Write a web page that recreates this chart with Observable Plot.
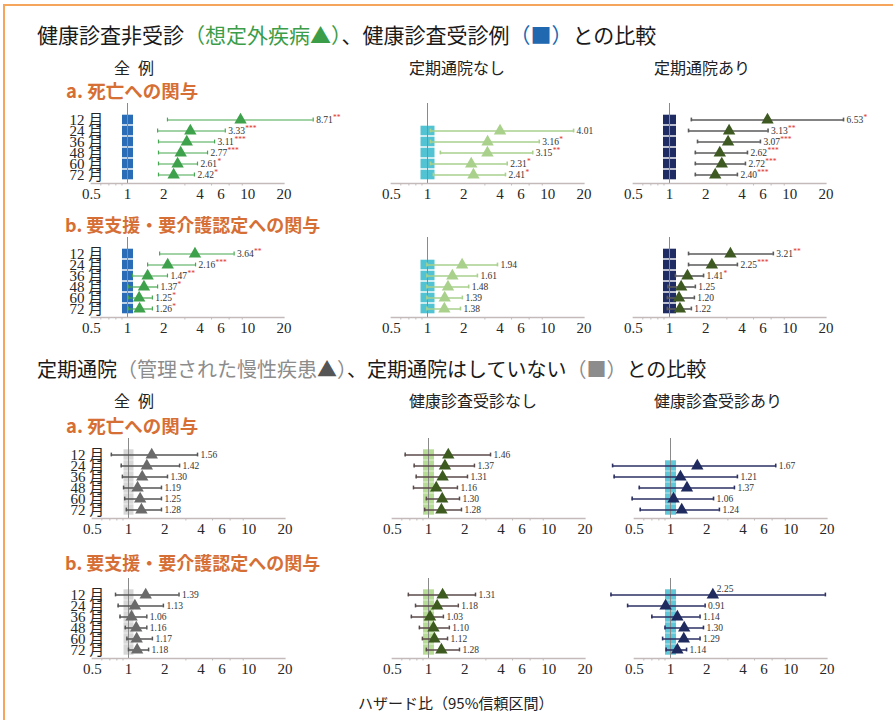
<!DOCTYPE html>
<html><head><meta charset="utf-8">
<script src="https://cdn.jsdelivr.net/npm/d3@7"></script>
<script src="https://cdn.jsdelivr.net/npm/@observablehq/plot@0.6"></script>
<style>
body{margin:0;background:#fff}
#root{position:relative;width:893px;height:720px;overflow:hidden;background:#fff;font-family:"Noto Sans CJK JP","Noto Sans",sans-serif}
.t{position:absolute;white-space:nowrap;line-height:1;transform:translateY(-50%)}
.frameline{position:absolute;left:3px;top:4px;width:900px;height:730px;border-top:2px solid #f5a65c;border-left:2px solid #f5a65c}
.p{position:absolute}
</style></head>
<body>
<div id="root">
<div class="frameline"></div>
<div class="t" style="left:37px;top:34px;font-size:21px;color:#1a1a1a">健康診査非受診<span style="color:#3c9d48">（想定外疾病▲）</span>、健康診査受診例<span style="color:#2068b0">（■）</span>との比較</div>
<div class="t" style="left:114px;top:67px;font-size:16px;color:#222">全&ensp;例</div>
<div class="t" style="left:409px;top:67px;font-size:16px;color:#222">定期通院なし</div>
<div class="t" style="left:654px;top:67px;font-size:16px;color:#222">定期通院あり</div>
<div class="t" style="left:66px;top:90px;font-size:18.5px;font-weight:bold;color:#d66f35">a. 死亡への関与</div>
<div class="t" style="left:65px;top:224px;font-size:18px;font-weight:bold;color:#d66f35">b. 要支援・要介護認定への関与</div>
<div class="t" style="left:37px;top:369px;font-size:20px;color:#1a1a1a">定期通院<span style="color:#8c8c8c">（管理された慢性疾患<span style="color:#555">▲</span>）</span>、定期通院はしていない<span style="color:#8c8c8c">（■）</span>との比較</div>
<div class="t" style="left:114px;top:400px;font-size:16px;color:#222">全&ensp;例</div>
<div class="t" style="left:409px;top:400px;font-size:16px;color:#222">健康診査受診なし</div>
<div class="t" style="left:654px;top:400px;font-size:16px;color:#222">健康診査受診あり</div>
<div class="t" style="left:66px;top:425px;font-size:18.5px;font-weight:bold;color:#d66f35">a. 死亡への関与</div>
<div class="t" style="left:65px;top:562px;font-size:18px;font-weight:bold;color:#d66f35">b. 要支援・要介護認定への関与</div>
<div class="t" style="left:358px;top:702px;font-size:15px;color:#222">ハザード比（95%信頼区間）</div>
</div>
<script>
const rows = ["12 月","24 月","36 月","48 月","60 月","72 月"];
const majorTicks = [0.5, 1, 2, 4, 6, 8, 10, 20];
const minorTicks = [0.6, 0.7, 0.8, 0.9, 3, 5, 7, 9];
const refHR = 1;

// Section 1a: death, 全例 / 定期通院なし / 定期通院あり
const p1Hr = [8.71, 3.33, 3.11, 2.77, 2.61, 2.42];
const p1Lo = [2.15, 1.78, 1.81, 1.81, 1.81, 1.81];
const p1Hi = [35, 6.5, 5.3, 4.63, 3.82, 3.6];
const p1Sig = ["**", "***", "***", "***", "*", "*"];
const p2Hr = [null, 4.01, 3.16, 3.15, 2.31, 2.41];
const p2Lo = [null, 1.06, 1.06, 1.28, 1.06, 1.12];
const p2Hi = [null, 16.4, 8.5, 7.5, 4.6, 4.45];
const p2Sig = [null, "", "*", "**", "*", "*"];
const p3Hr = [6.53, 3.13, 3.07, 2.62, 2.72, 2.40];
const p3Lo = [1.52, 1.44, 1.71, 1.64, 1.64, 1.64];
const p3Hi = [28, 6.6, 5.7, 4.45, 4.28, 3.67];
const p3Sig = ["*", "**", "***", "***", "***", "***"];
// Section 1b: care need
const p4Hr = [3.64, 2.16, 1.47, 1.37, 1.25, 1.26];
const p4Lo = [1.85, 1.47, 1.1, 1.02, 1.02, 1.02];
const p4Hi = [7.7, 3.68, 2.15, 1.78, 1.61, 1.61];
const p4Sig = ["**", "***", "**", "*", "*", "*"];
const p5Hr = [null, 1.94, 1.61, 1.48, 1.39, 1.38];
const p5Lo = [null, 0.99, 0.99, 0.99, 0.99, 0.99];
const p5Hi = [null, 3.82, 2.6, 2.2, 1.95, 1.88];
const p6Hr = [3.21, 2.25, 1.41, 1.25, 1.20, 1.22];
const p6Lo = [1.44, 1.44, 1.12, 0.97, 0.96, 0.96];
const p6Hi = [7.3, 3.67, 1.92, 1.64, 1.61, 1.52];
const p6Sig = ["**", "***", "*", "", "", ""];
// Section 2a: death, 全例 / 健康診査受診なし / 健康診査受診あり
const p7Hr = [1.56, 1.42, 1.30, 1.19, 1.25, 1.28];
const p7Lo = [0.72, 0.87, 0.89, 0.91, 0.93, 0.96];
const p7Hi = [3.75, 2.66, 2.11, 1.88, 1.88, 1.88];
const p8Hr = [1.46, 1.37, 1.31, 1.16, 1.30, 1.28];
const p8Lo = [0.64, 0.76, 0.79, 0.75, 0.96, 0.93];
const p8Hi = [3.28, 2.41, 2.11, 1.74, 1.81, 1.88];
const p9Hr = [null, 1.67, 1.21, 1.37, 1.06, 1.24];
const p9Lo = [null, 0.33, 0.34, 0.55, 0.48, 0.56];
const p9Hi = [null, 7.5, 3.6, 3.4, 2.28, 2.55];
// Section 2b: care need
const p10Hr = [1.39, 1.13, 1.06, 1.16, 1.17, 1.18];
const p10Lo = [0.78, 0.82, 0.85, 0.94, 0.97, 1.0];
const p10Hi = [2.63, 1.95, 1.42, 1.42, 1.58, 1.47];
const p11Hr = [1.31, 1.18, 1.03, 1.10, 1.12, 1.28];
const p11Lo = [0.68, 0.78, 0.72, 0.84, 0.89, 0.96];
const p11Hi = [2.46, 1.77, 1.33, 1.49, 1.44, 1.81];
const p12Hr = [2.25, 0.91, 1.14, 1.30, 1.29, 1.14];
const p12Lo = [0.32, 0.44, 0.70, 0.90, 0.86, 0.92];
const p12Hi = [19.4, 1.94, 1.76, 1.88, 1.76, 1.36];

const serif = "'Liberation Serif','DejaVu Serif',serif";
const serifCJK = "'Liberation Serif','Noto Sans CJK JP',serif";
const axisColor = "#c4baba";
const starRed = "#e0302a";

const st = {
  s1c1: {sq: "#2b6cb6", sqW: 11, gap: 0.7, tri: "#3ea14b", ci: "#46a850", ciW: 1.2},
  s1c2: {sq: "#52c3d2", sqW: 14, gap: 0.7, tri: "#a9d18c", ci: "#a9d18c", ciW: 1.6},
  s1c3: {sq: "#1f2b63", sqW: 13, gap: 0.7, tri: "#3e5a22", ci: "#5a5a5a", ciW: 1.6},
  s2c1: {sq: "#d6d6d6", sqW: 10, gap: 0.3, tri: "#6a6a6a", ci: "#555555", ciW: 1.5},
  s2c2: {sq: "#b6db94", sqW: 11, gap: 0.3, tri: "#3d5a1f", ci: "#5b4a4a", ciW: 1.5},
  s2c3: {sq: "#5fc7d7", sqW: 11, gap: 0.3, tri: "#1f2a5e", ci: "#2c3163", ciW: 1.6}
};

const colX1 = [[127, 427, 669], [128, 428, 670]];
const groupTop = [95, 229, 430, 570];

const panels = [
  {g: 0, c: 0, sec: 0, hr: p1Hr, lo: p1Lo, hi: p1Hi, sig: p1Sig, s: st.s1c1},
  {g: 0, c: 1, sec: 0, hr: p2Hr, lo: p2Lo, hi: p2Hi, sig: p2Sig, s: st.s1c2},
  {g: 0, c: 2, sec: 0, hr: p3Hr, lo: p3Lo, hi: p3Hi, sig: p3Sig, s: st.s1c3},
  {g: 1, c: 0, sec: 0, hr: p4Hr, lo: p4Lo, hi: p4Hi, sig: p4Sig, s: st.s1c1},
  {g: 1, c: 1, sec: 0, hr: p5Hr, lo: p5Lo, hi: p5Hi, sig: null, s: st.s1c2},
  {g: 1, c: 2, sec: 0, hr: p6Hr, lo: p6Lo, hi: p6Hi, sig: p6Sig, s: st.s1c3},
  {g: 2, c: 0, sec: 1, hr: p7Hr, lo: p7Lo, hi: p7Hi, sig: null, s: st.s2c1},
  {g: 2, c: 1, sec: 1, hr: p8Hr, lo: p8Lo, hi: p8Hi, sig: null, s: st.s2c2},
  {g: 2, c: 2, sec: 1, hr: p9Hr, lo: p9Lo, hi: p9Hi, sig: null, s: st.s2c3},
  {g: 3, c: 0, sec: 1, hr: p10Hr, lo: p10Lo, hi: p10Hi, sig: null, s: st.s2c1},
  {g: 3, c: 1, sec: 1, hr: p11Hr, lo: p11Lo, hi: p11Hi, sig: null, s: st.s2c2},
  {g: 3, c: 2, sec: 1, hr: p12Hr, lo: p12Lo, hi: p12Hi, sig: null, s: st.s2c3, above: ["12 月"]}
];

const W = 300, H = 112, X1 = 90, OCT = 36.2;
const labelFont = 9.5;
const numW = labelFont * 1.78;

const root = document.getElementById("root");
for (const p of panels) {
  const data = rows.map((row, i) => ({row, hr: p.hr[i], lo: p.lo[i], hi: p.hi[i], sig: p.sig ? p.sig[i] : ""}))
    .filter(d => d.hr != null);
  const above = p.above || [];
  const normal = data.filter(d => !above.includes(d.row));
  const up = data.filter(d => above.includes(d.row));
  const s = p.s;
  const mL = X1 - OCT, mR = W - (X1 + OCT * Math.log2(20));
  const marks = [
    Plot.tickX(data, {x: () => refHR, y: "row", stroke: s.sq, strokeWidth: s.sqW, insetTop: s.gap, insetBottom: s.gap}),
    Plot.ruleX([refHR], {stroke: "#8a8a8a", strokeWidth: 1}),
    Plot.frame({anchor: "bottom", stroke: axisColor, strokeWidth: 1.3}),
    Plot.axisX({ticks: minorTicks, tickSize: 2.5, tickFormat: () => "", stroke: axisColor, label: null}),
    Plot.axisX({ticks: majorTicks, tickSize: 0, tickPadding: 5, tickFormat: d => String(d), fontSize: 15, fill: "#262626", fontFamily: serif, label: null}),
    Plot.ruleY(data, {y: "row", x1: "lo", x2: "hi", stroke: s.ci, strokeWidth: s.ciW}),
    Plot.tickX(data, {x: "lo", y: "row", stroke: s.ci, strokeWidth: s.ciW, insetTop: 3.6, insetBottom: 3.6}),
    Plot.tickX(data, {x: "hi", y: "row", stroke: s.ci, strokeWidth: s.ciW, insetTop: 3.6, insetBottom: 3.6}),
    Plot.dot(data, {x: "hr", y: "row", symbol: "triangle", r: 4.6, fill: s.tri, stroke: "none"}),
    Plot.text(normal, {x: "hi", y: "row", text: d => d.hr.toFixed(2), dx: 3, textAnchor: "start", fontSize: labelFont, fill: "#333", fontFamily: serif}),
    Plot.text(normal.filter(d => d.sig), {x: "hi", y: "row", text: "sig", dx: 3 + numW, dy: -2, textAnchor: "start", fontSize: 7.5, fill: starRed, fontFamily: serif}),
    Plot.text(up, {x: "hr", y: "row", text: d => d.hr.toFixed(2), dx: 4, dy: -6, textAnchor: "start", fontSize: labelFont, fill: "#333", fontFamily: serif})
  ];
  if (p.c === 0) marks.push(Plot.axisY({tickSize: 0, dx: 21, fontSize: 15, fill: "#262626", fontFamily: serifCJK, label: null}));
  const svg = Plot.plot({
    width: W, height: H,
    marginLeft: mL, marginRight: mR, marginTop: 8, marginBottom: H - 88,
    x: {type: "log", domain: [0.5, 20], label: null},
    y: {type: "band", domain: rows, range: [23 - 5.8, 81 + 5.8], padding: 0, label: null, axis: p.c === 0 ? undefined : null},
    style: {background: "transparent", overflow: "visible", maxWidth: "none"},
    marks
  });
  const holder = document.createElement("div");
  holder.className = "p";
  holder.style.left = (colX1[p.sec][p.c] - X1) + "px";
  holder.style.top = groupTop[p.g] + "px";
  holder.appendChild(svg);
  root.appendChild(holder);
}
</script>
</body></html>
